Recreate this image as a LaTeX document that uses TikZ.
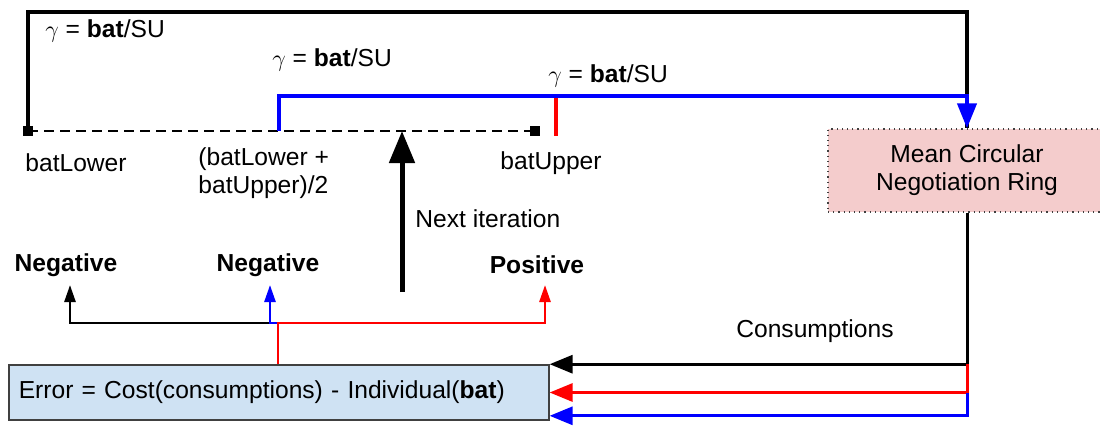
\documentclass[tikz,border=0pt]{standalone}
\usepackage{fontspec}
\setmainfont{Liberation Sans}
\usetikzlibrary{arrows.meta, positioning}
\definecolor{ringpink}{HTML}{F4CCCC}
\definecolor{errorblue}{HTML}{CFE2F3}
\tikzset{
    txt/.style={inner sep=0pt, font=\fontsize{12.3}{14}\selectfont},
    ringbox/.style={rectangle, draw=black!75, dotted, line width=0.6pt, fill=ringpink, minimum width=139pt, minimum height=41.5pt, align=center, font=\fontsize{12.3}{14}\selectfont},
    errorbox/.style={rectangle, draw=black!75, line width=0.8pt, fill=errorblue, text width=260pt, inner xsep=5pt, minimum height=27.5pt, align=left, font=\fontsize{12.3}{14}\selectfont},
    marker/.style={rectangle, fill=black, inner sep=0pt, minimum size=5pt},
    loopline/.style={line width=2pt},
    looparrow/.style={line width=2pt, -{Triangle[length=12.5pt, width=9.5pt]}},
    feed/.style={line width=1.5pt, -{Triangle[length=11.5pt, width=9pt]}},
    branch/.style={line width=1.3pt, -{Triangle[length=8.5pt, width=5.5pt]}},
    iterarrow/.style={line width=2.5pt, -{Triangle[length=16pt, width=12.5pt]}}
}

\begin{document}
\begin{tikzpicture}[x=0.5pt, y=-0.5pt]
    \useasboundingbox (0,0) rectangle (1100,425);
    % Boxes
    \node (ring) [ringbox] at (967,170.5) {Mean Circular\\Negotiation Ring};
    \node (error) [errorbox, anchor=west] at (8,392.5) {Error = Cost(consumptions) - Individual(\textbf{bat})};
    % Bisection interval
    \coordinate (lowerEnd) at (28,131);
    \coordinate (upperEnd) at (535,131);
    \coordinate (midPoint) at (279,131);
    \coordinate (blackTurn) at (967,12);
    \coordinate (blueTurn) at (967,96);
    \coordinate (redTop) at (556,96);
    \coordinate (redFoot) at (556,136);
    \draw [line width=1.4pt, dash pattern=on 5pt off 3pt] (lowerEnd) -- (upperEnd);
    \node [marker] at (lowerEnd) {};
    \node [marker] at (upperEnd) {};
    % Interval labels
    \node (gammaLower) [txt, anchor=west] at (45,31) {$\gamma$ = \textbf{bat}/SU};
    \node (gammaMid) [txt, anchor=west] at (272,60) {$\gamma$ = \textbf{bat}/SU};
    \node (gammaUpper) [txt, anchor=west] at (548,76) {$\gamma$ = \textbf{bat}/SU};
    \node (batLower) [txt, anchor=west] at (25,163) {batLower};
    \node (batMid) [txt, anchor=west, align=left] at (198,173) {(batLower +\\batUpper)/2};
    \node (batUpper) [txt, anchor=west] at (500,163) {batUpper};
    % Arrows into the ring
    \draw [loopline] (lowerEnd) |- (blackTurn) -- (ring.north);
    \draw [red, loopline] (redTop) -- (redFoot);
    \draw [blue, looparrow] (midPoint) |- (blueTurn) -- (ring.north);
    % Next iteration
    \coordinate (iterFoot) at (402,292);
    \coordinate (iterTip) at (402,131);
    \draw [iterarrow] (iterFoot) -- (iterTip);
    \node (iter) [txt, anchor=west] at (415,219) {Next iteration};
    % Consumptions back to the error
    \node (cons) [txt] at (815,331) {Consumptions};
    \draw [feed] (ring.south) |- (error.north east);
    \draw [red, feed] (ring.south |- error.north east) |- (error.east);
    \draw [blue, feed] (ring.south |- error.east) |- ([yshift=2.5pt]error.south east);
    % Sign of the error
    \node (negA) [txt, font=\fontsize{12.3}{14}\selectfont\bfseries] at (66,265) {Negative};
    \node (negB) [txt, font=\fontsize{12.3}{14}\selectfont\bfseries] at (268,265) {Negative};
    \node (pos) [txt, font=\fontsize{12.3}{14}\selectfont\bfseries] at (537,265) {Positive};
    \coordinate (negATip) at (70,285);
    \coordinate (negBTip) at (270,285);
    \coordinate (posTip) at (545,285);
    \coordinate (split) at (278,323);
    \draw [branch] (negBTip |- split) -| (negATip);
    \draw [blue, branch] (split) -| (negBTip);
    \draw [red, branch] (error.north -| split) -- (split) -| (posTip);
\end{tikzpicture}
\end{document}
